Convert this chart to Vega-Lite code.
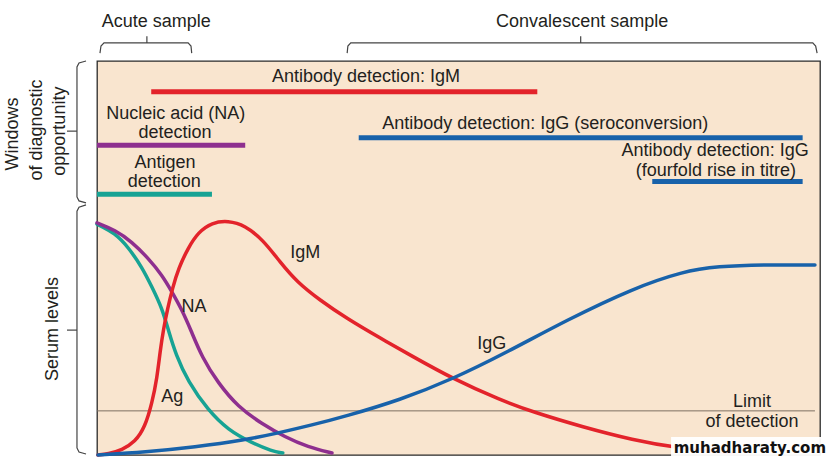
{
  "$schema": "https://vega.github.io/schema/vega-lite/v6.json",
  "width": 723,
  "height": 394,
  "autosize": {"type": "none"},
  "padding": {"left": 97, "top": 61, "right": 7, "bottom": 6},
  "background": "white",
  "config": {
    "view": {"stroke": "#2a2a2a", "strokeWidth": 1.3, "fill": "#F9E5CF"},
    "text": {"font": "Liberation Sans", "fontSize": 18, "color": "#231F20"}
  },
  "datasets": {
    "curves": [
      {"s": "Ag", "x": 0, "y": 58.6}, {"s": "Ag", "x": 2.49, "y": 56.3}, {"s": "Ag", "x": 4.29, "y": 52.8},
      {"s": "Ag", "x": 6.22, "y": 47.7}, {"s": "Ag", "x": 7.61, "y": 42.6}, {"s": "Ag", "x": 8.99, "y": 37.3},
      {"s": "Ag", "x": 9.9, "y": 31.5}, {"s": "Ag", "x": 10.9, "y": 25.5}, {"s": "Ag", "x": 12.59, "y": 18.6},
      {"s": "Ag", "x": 15.35, "y": 11.4}, {"s": "Ag", "x": 18.12, "y": 6.35}, {"s": "Ag", "x": 21.44, "y": 3.05},
      {"s": "Ag", "x": 24.2, "y": 1.0}, {"s": "Ag", "x": 25.7, "y": 0.5},
      {"s": "NA", "x": 0, "y": 58.9}, {"s": "NA", "x": 2.49, "y": 57.1}, {"s": "NA", "x": 4.84, "y": 54.1},
      {"s": "NA", "x": 7.05, "y": 50.0}, {"s": "NA", "x": 8.99, "y": 45.7}, {"s": "NA", "x": 10.37, "y": 41.4},
      {"s": "NA", "x": 11.76, "y": 36.8}, {"s": "NA", "x": 12.96, "y": 31.8}, {"s": "NA", "x": 14.52, "y": 24.8},
      {"s": "NA", "x": 16.74, "y": 18.3}, {"s": "NA", "x": 19.5, "y": 12.2}, {"s": "NA", "x": 22.82, "y": 7.9},
      {"s": "NA", "x": 26.0, "y": 4.57}, {"s": "NA", "x": 29.18, "y": 2.03}, {"s": "NA", "x": 32.5, "y": 0.5},
      {"s": "IgM", "x": 0.14, "y": 0}, {"s": "IgM", "x": 1.52, "y": 0.25}, {"s": "IgM", "x": 3.46, "y": 1.27},
      {"s": "IgM", "x": 5.26, "y": 3.3}, {"s": "IgM", "x": 6.64, "y": 7.1}, {"s": "IgM", "x": 7.61, "y": 13.2},
      {"s": "IgM", "x": 8.3, "y": 19.5}, {"s": "IgM", "x": 8.75, "y": 26.6}, {"s": "IgM", "x": 9.2, "y": 32.0},
      {"s": "IgM", "x": 9.75, "y": 37.0}, {"s": "IgM", "x": 10.45, "y": 42.4}, {"s": "IgM", "x": 11.3, "y": 47.5},
      {"s": "IgM", "x": 12.59, "y": 52.5}, {"s": "IgM", "x": 13.97, "y": 56.5}, {"s": "IgM", "x": 15.91, "y": 59.0},
      {"s": "IgM", "x": 18.12, "y": 59.5}, {"s": "IgM", "x": 20.47, "y": 58.3}, {"s": "IgM", "x": 22.96, "y": 54.6},
      {"s": "IgM", "x": 25.31, "y": 49.0}, {"s": "IgM", "x": 27.66, "y": 43.9}, {"s": "IgM", "x": 30.84, "y": 39.3},
      {"s": "IgM", "x": 34.58, "y": 34.6}, {"s": "IgM", "x": 39.14, "y": 29.7}, {"s": "IgM", "x": 43.29, "y": 25.4},
      {"s": "IgM", "x": 49.24, "y": 19.3}, {"s": "IgM", "x": 55.74, "y": 14.0}, {"s": "IgM", "x": 60.3, "y": 10.9},
      {"s": "IgM", "x": 67.22, "y": 7.1}, {"s": "IgM", "x": 74.14, "y": 3.8}, {"s": "IgM", "x": 80.22, "y": 1.78},
      {"s": "IgM", "x": 87.97, "y": 0.5},
      {"s": "IgG", "x": 0.14, "y": 0}, {"s": "IgG", "x": 6.64, "y": 0.76}, {"s": "IgG", "x": 13.55, "y": 2.03},
      {"s": "IgG", "x": 20.47, "y": 3.81}, {"s": "IgG", "x": 25.03, "y": 5.58}, {"s": "IgG", "x": 29.74, "y": 7.61},
      {"s": "IgG", "x": 34.3, "y": 9.8}, {"s": "IgG", "x": 41.91, "y": 13.96}, {"s": "IgG", "x": 49.24, "y": 19.3},
      {"s": "IgG", "x": 56.71, "y": 26.1}, {"s": "IgG", "x": 65.01, "y": 34.3}, {"s": "IgG", "x": 74.14, "y": 42.3},
      {"s": "IgG", "x": 81.05, "y": 46.6}, {"s": "IgG", "x": 85.75, "y": 47.9}, {"s": "IgG", "x": 92.67, "y": 48.3},
      {"s": "IgG", "x": 99.3, "y": 48.2}
    ],
    "windows": [
      {"s": "IgM", "x1": 7.5, "x2": 60.9, "y": 92.2},
      {"s": "NA", "x1": 0, "x2": 20.5, "y": 78.6},
      {"s": "Ag", "x1": 0, "x2": 15.9, "y": 66.2},
      {"s": "IgG", "x1": 36.2, "x2": 97.6, "y": 80.5},
      {"s": "IgG", "x1": 76.8, "x2": 97.6, "y": 69.4}
    ],
    "labels": [
      {"t": "Acute sample", "x": 8.2, "y": 109.9},
      {"t": "Convalescent sample", "x": 67.1, "y": 109.9},
      {"t": "Antibody detection: IgM", "x": 37.2, "y": 95.9},
      {"t": "Nucleic acid (NA)", "x": 10.9, "y": 86.5},
      {"t": "detection", "x": 10.8, "y": 81.6},
      {"t": "Antigen", "x": 9.4, "y": 74.2},
      {"t": "detection", "x": 9.3, "y": 69.2},
      {"t": "Antibody detection: IgG (seroconversion)", "x": 62.0, "y": 84.0},
      {"t": "Antibody detection: IgG", "x": 85.5, "y": 77.1},
      {"t": "(fourfold rise in titre)", "x": 85.6, "y": 72.2},
      {"t": "IgM", "x": 28.8, "y": 51.3},
      {"t": "NA", "x": 13.4, "y": 37.6},
      {"t": "Ag", "x": 10.4, "y": 14.7},
      {"t": "IgG", "x": 54.6, "y": 28.2},
      {"t": "Limit", "x": 90.6, "y": 13.5},
      {"t": "of detection", "x": 90.6, "y": 8.4}
    ],
    "vlabels": [
      {"t": "Windows", "x": -11.6, "y": 81.5},
      {"t": "of diagnostic", "x": -8.3, "y": 82.5},
      {"t": "opportunity", "x": -5.1, "y": 82.2},
      {"t": "Serum levels", "x": -6.1, "y": 32.0}
    ],
    "braces": [
      {"b": "acute", "i": 1, "x": 0.41, "y": 102.0}, {"b": "acute", "i": 2, "x": 0.55, "y": 103.8},
      {"b": "acute", "i": 3, "x": 0.97, "y": 104.6}, {"b": "acute", "i": 4, "x": 12.6, "y": 104.6},
      {"b": "acute", "i": 5, "x": 13.0, "y": 103.8}, {"b": "acute", "i": 6, "x": 13.1, "y": 102.0},
      {"b": "conv", "i": 1, "x": 34.6, "y": 102.0}, {"b": "conv", "i": 2, "x": 34.7, "y": 103.8},
      {"b": "conv", "i": 3, "x": 35.1, "y": 104.6}, {"b": "conv", "i": 4, "x": 99.0, "y": 104.6},
      {"b": "conv", "i": 5, "x": 99.4, "y": 103.8}, {"b": "conv", "i": 6, "x": 99.6, "y": 102.0},
      {"b": "win", "i": 1, "x": -1.52, "y": 100.0}, {"b": "win", "i": 2, "x": -2.49, "y": 99.5},
      {"b": "win", "i": 3, "x": -2.77, "y": 98.5}, {"b": "win", "i": 4, "x": -2.77, "y": 65.5},
      {"b": "win", "i": 5, "x": -2.49, "y": 64.5}, {"b": "win", "i": 6, "x": -1.52, "y": 64.0},
      {"b": "serum", "i": 1, "x": -1.52, "y": 63.5}, {"b": "serum", "i": 2, "x": -2.49, "y": 62.9},
      {"b": "serum", "i": 3, "x": -2.77, "y": 61.9}, {"b": "serum", "i": 4, "x": -2.77, "y": 1.8},
      {"b": "serum", "i": 5, "x": -2.49, "y": 0.76}, {"b": "serum", "i": 6, "x": -1.52, "y": 0.25}
    ],
    "ticks": [
      {"x1": 6.9, "x2": 6.9, "y1": 104.6, "y2": 106.3},
      {"x1": 66.9, "x2": 66.9, "y1": 104.6, "y2": 106.3},
      {"x1": -2.77, "x2": -4.15, "y1": 82.2, "y2": 82.2},
      {"x1": -2.77, "x2": -4.15, "y1": 31.7, "y2": 31.7}
    ],
    "limit": [{"x1": 0, "x2": 99.3, "y": 11.2}],
    "mark": [{"t": "muhadharaty.com", "x1": 79.4, "x2": 101.0, "y1": -1.6, "y2": 4.6, "x": 90.3, "y": 1.8}]
  },
  "layer": [
    {
      "data": {"name": "limit"},
      "mark": {"type": "rule", "color": "#7d6f62", "strokeWidth": 1},
      "encoding": {
        "x": {"field": "x1", "type": "quantitative", "scale": {"domain": [0, 100], "nice": false, "zero": false}, "axis": null},
        "x2": {"field": "x2"},
        "y": {"field": "y", "type": "quantitative", "scale": {"domain": [0, 100], "nice": false, "zero": false}, "axis": null}
      }
    },
    {
      "data": {"name": "curves"},
      "mark": {"type": "line", "interpolate": "basis", "strokeWidth": 3.5, "strokeCap": "round"},
      "encoding": {
        "x": {"field": "x", "type": "quantitative", "scale": {"domain": [0, 100], "nice": false, "zero": false}, "axis": null},
        "y": {"field": "y", "type": "quantitative", "scale": {"domain": [0, 100], "nice": false, "zero": false}, "axis": null},
        "color": {"field": "s", "type": "nominal", "scale": {"domain": ["IgM", "NA", "Ag", "IgG"], "range": ["#E3232B", "#8E2F8F", "#17A394", "#1862AA"]}, "legend": null}
      }
    },
    {
      "data": {"name": "windows"},
      "mark": {"type": "rule", "strokeWidth": 5, "strokeCap": "butt"},
      "encoding": {
        "x": {"field": "x1", "type": "quantitative", "scale": {"domain": [0, 100], "nice": false, "zero": false}, "axis": null},
        "x2": {"field": "x2"},
        "y": {"field": "y", "type": "quantitative", "scale": {"domain": [0, 100], "nice": false, "zero": false}, "axis": null},
        "color": {"field": "s", "type": "nominal", "scale": {"domain": ["IgM", "NA", "Ag", "IgG"], "range": ["#E3232B", "#8E2F8F", "#17A394", "#1862AA"]}, "legend": null}
      }
    },
    {
      "data": {"name": "braces"},
      "mark": {"type": "line", "color": "#444444", "strokeWidth": 1.2},
      "encoding": {
        "x": {"field": "x", "type": "quantitative", "scale": {"domain": [0, 100], "nice": false, "zero": false}, "axis": null},
        "y": {"field": "y", "type": "quantitative", "scale": {"domain": [0, 100], "nice": false, "zero": false}, "axis": null},
        "detail": {"field": "b", "type": "nominal"},
        "order": {"field": "i", "type": "quantitative"}
      }
    },
    {
      "data": {"name": "ticks"},
      "mark": {"type": "rule", "color": "#444444", "strokeWidth": 1.2},
      "encoding": {
        "x": {"field": "x1", "type": "quantitative", "scale": {"domain": [0, 100], "nice": false, "zero": false}, "axis": null},
        "x2": {"field": "x2"},
        "y": {"field": "y1", "type": "quantitative", "scale": {"domain": [0, 100], "nice": false, "zero": false}, "axis": null},
        "y2": {"field": "y2"}
      }
    },
    {
      "data": {"name": "labels"},
      "mark": {"type": "text", "align": "center", "baseline": "middle"},
      "encoding": {
        "x": {"field": "x", "type": "quantitative", "scale": {"domain": [0, 100], "nice": false, "zero": false}, "axis": null},
        "y": {"field": "y", "type": "quantitative", "scale": {"domain": [0, 100], "nice": false, "zero": false}, "axis": null},
        "text": {"field": "t", "type": "nominal"}
      }
    },
    {
      "data": {"name": "vlabels"},
      "mark": {"type": "text", "align": "center", "baseline": "middle", "angle": 270},
      "encoding": {
        "x": {"field": "x", "type": "quantitative", "scale": {"domain": [0, 100], "nice": false, "zero": false}, "axis": null},
        "y": {"field": "y", "type": "quantitative", "scale": {"domain": [0, 100], "nice": false, "zero": false}, "axis": null},
        "text": {"field": "t", "type": "nominal"}
      }
    },
    {
      "data": {"name": "mark"},
      "mark": {"type": "rect", "fill": "white", "opacity": 0.95},
      "encoding": {
        "x": {"field": "x1", "type": "quantitative", "scale": {"domain": [0, 100], "nice": false, "zero": false}, "axis": null},
        "x2": {"field": "x2"},
        "y": {"field": "y1", "type": "quantitative", "scale": {"domain": [0, 100], "nice": false, "zero": false}, "axis": null},
        "y2": {"field": "y2"}
      }
    },
    {
      "data": {"name": "mark"},
      "mark": {"type": "text", "align": "center", "baseline": "middle", "font": "DejaVu Sans", "fontWeight": "bold", "fontSize": 15, "color": "#111111"},
      "encoding": {
        "x": {"field": "x", "type": "quantitative", "scale": {"domain": [0, 100], "nice": false, "zero": false}, "axis": null},
        "y": {"field": "y", "type": "quantitative", "scale": {"domain": [0, 100], "nice": false, "zero": false}, "axis": null},
        "text": {"field": "t", "type": "nominal"}
      }
    }
  ]
}
